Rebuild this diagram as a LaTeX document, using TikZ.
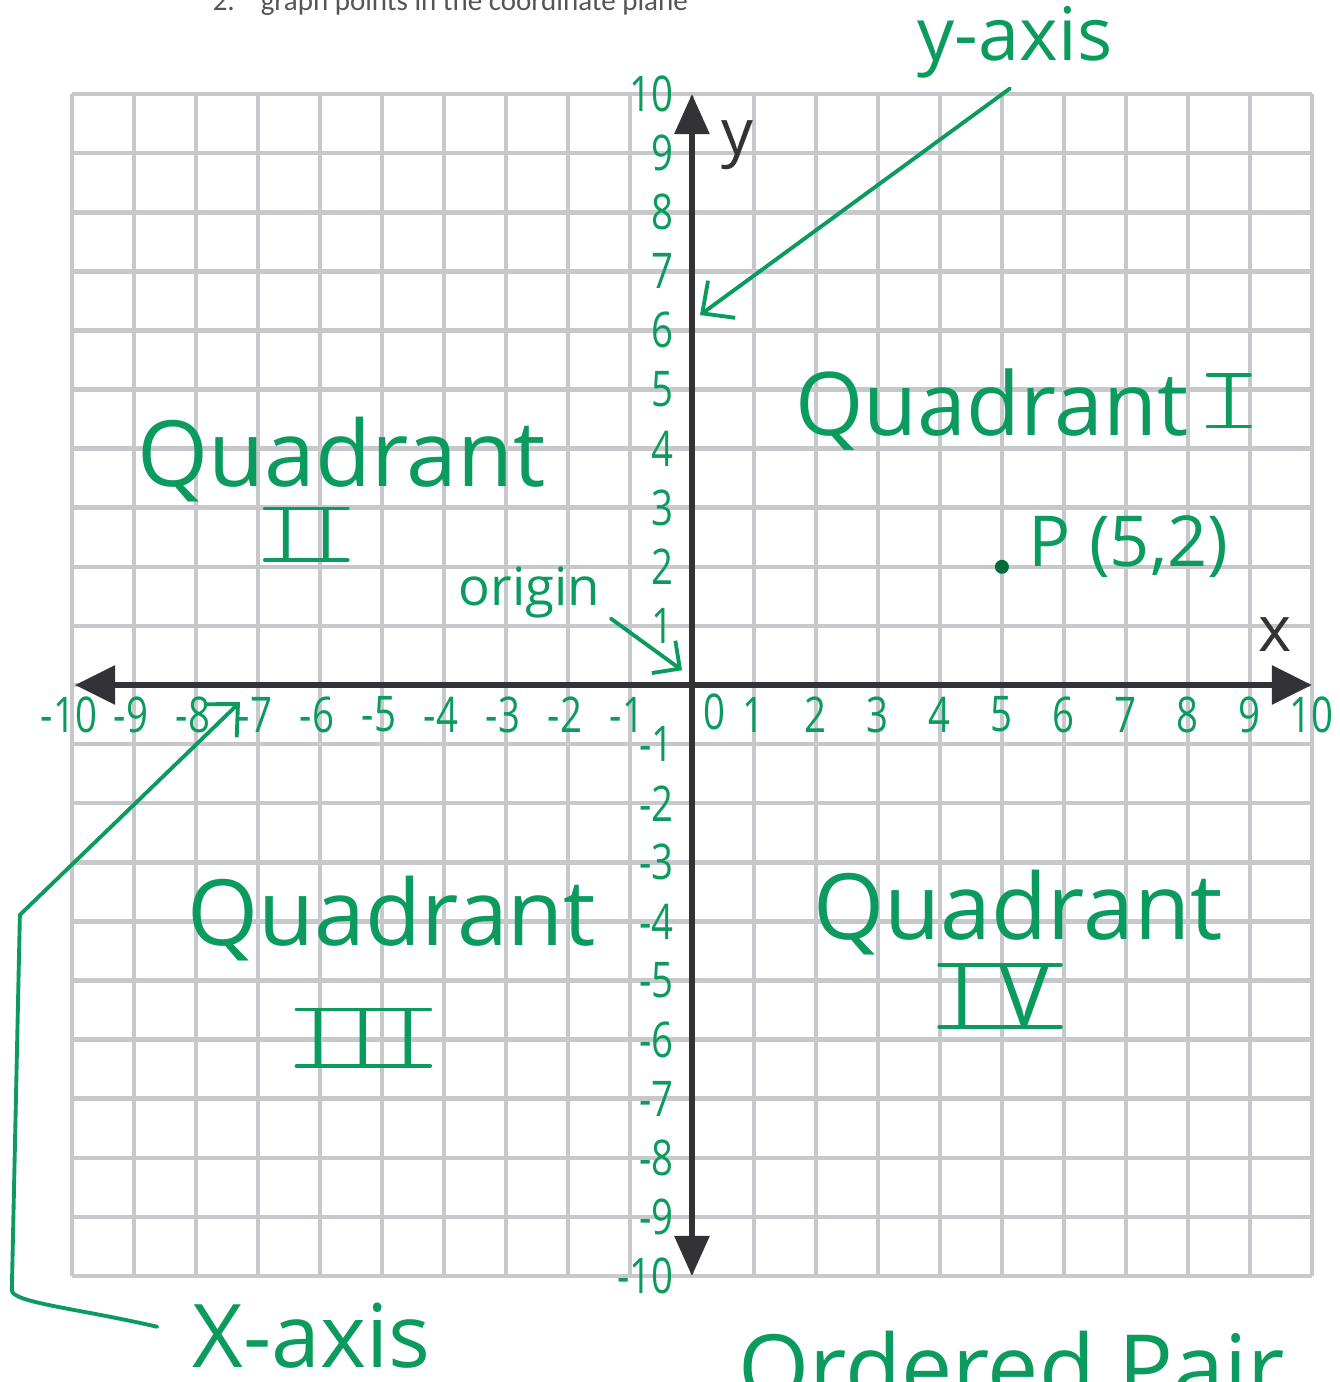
\documentclass[tikz,border=0pt]{standalone}
\usepackage{fontspec}
\usepackage{tikz}
\usetikzlibrary{arrows.meta,positioning,calc}
\newfontfamily\handfont{Open Sans}
\newfontfamily\tickfont[FakeStretch=0.78]{Open Sans}
\newfontfamily\numfont[LetterSpace=30]{Open Sans}
\newfontfamily\printfont{Carlito}
\definecolor{PenGreen}{RGB}{12,155,95}
\definecolor{DotGreen}{RGB}{0,110,60}
\definecolor{AxisGray}{RGB}{50,50,55}
\definecolor{GridGray}{RGB}{198,200,204}
\definecolor{PrintGray}{RGB}{85,85,85}

\begin{document}
\begin{tikzpicture}[x=0.62cm,y=0.591cm,
  pen/.style={PenGreen,line width=1.1pt,line cap=round,line join=round},
  barb/.style={-{Straight Barb[length=2.4mm,width=4.6mm]}},
  hand/.style={PenGreen,inner sep=0pt,font=\handfont\fontsize{#1}{#1}\selectfont},
  quad/.style={hand=#1,anchor=base},
  quad/.default=26,
  numeral/.style={PenGreen,font=\numfont\fontsize{#1}{#1}\selectfont,inner xsep=3pt,inner ysep=0pt,
    append after command={(\tikzlastnode.north west) edge[pen] (\tikzlastnode.north east)
      (\tikzlastnode.south west) edge[pen] (\tikzlastnode.south east)}},
  numeral/.default=20,
  tick/.style={PenGreen,inner sep=0pt,font=\tickfont\fontsize{14}{14}\selectfont}]
  \useasboundingbox[fill=white] (-11.161,-11.794) rectangle (10.452,11.591);
  \draw[GridGray,line width=1.3pt,step=1] (-10,-10) grid (10,10);
  \draw[AxisGray,line width=1.7pt,{Triangle[length=4mm,width=3.8mm]}-{Triangle[length=4mm,width=3.8mm]}] (-9.95,0)--(10,0);
  \draw[AxisGray,line width=1.7pt,{Triangle[length=4mm,width=3.4mm]}-{Triangle[length=4mm,width=3.4mm]}] (0,-10)--(0,10);
  \node[hand=18,AxisGray] (ylet) at (0.74,9.14) {y};
  \node[hand=18,AxisGray] (xlet) at (9.40,0.85) {x};

  \foreach \k in {1,...,10}{
    \node[tick,anchor=east] (ytp\k) at (-0.28,\k) {\k};
    \node[tick,anchor=east] (ytn\k) at (-0.28,-\k) {-\k};
    \node[tick] (xtp\k) at (\k,-0.5) {\k};
    \node[tick] (xtn\k) at (-\k-0.05,-0.5) {-\k};
  }
  \node[tick] (xt0) at (0.37,-0.46) {0};

  \node[quad=25] (q1) at (4.84,4.23) {Quadrant};
  \node[numeral] (n1) at (8.66,4.81) {I};
  \node[quad] (q2) at (-5.65,3.36) {Quadrant};
  \node[numeral] (n2) at (-6.22,2.55) {II};
  \node[quad] (q3) at (-4.84,-4.40) {Quadrant};
  \node[numeral=22] (n3) at (-5.30,-5.97) {III};
  \node[quad] (q4) at (5.26,-4.31) {Quadrant};
  \node[numeral=24] (n4) at (4.97,-5.26) {IV};

  \node[circle,fill=DotGreen,inner sep=0pt,minimum size=1.4mm] (pnt) at (5,2) {};
  \node[hand=20,anchor=base west] (plab) at ([xshift=2.6mm]pnt.center) {P (5,2)};

  \node[hand=15,anchor=base west] (orig) at (-3.77,1.35) {origin};
  \coordinate (ohit) at (-0.16,0.25);
  \draw[pen,-{Straight Barb[length=2mm,width=4mm]}] ([xshift=1mm]orig.south east) -- (ohit);

  \node[hand=21,anchor=base] (yax) at (5.21,10.575) {y-axis};
  \coordinate (yhit) at (0.13,6.26);
  \draw[pen,barb] ([xshift=-0.5mm,yshift=-1mm]yax.south) -- (yhit);

  \node[hand=25,anchor=base] (xax) at (-6.13,-11.55) {X-axis};
  \coordinate (xhit) at (-7.29,-0.29);
  \coordinate (xbend) at (-10.84,-3.89);
  \coordinate (xfoot) at (-10.97,-10.24);
  \draw[pen,barb] ([xshift=-3.5mm,yshift=0.9mm]xax.west) .. controls (-9.9,-10.55) and (-10.97,-10.45) .. (xfoot) -- (xbend) -- (xhit);

  \node[hand=26,anchor=base] (opair) at (5.16,-12.10) {Ordered Pair};
  \node[font=\printfont\fontsize{8.25}{10}\selectfont,PrintGray,anchor=base west,inner sep=0pt] (title) at (-7.74,11.42) {2.\hspace{2.6mm}graph points in the coordinate plane};
\end{tikzpicture}
\end{document}
